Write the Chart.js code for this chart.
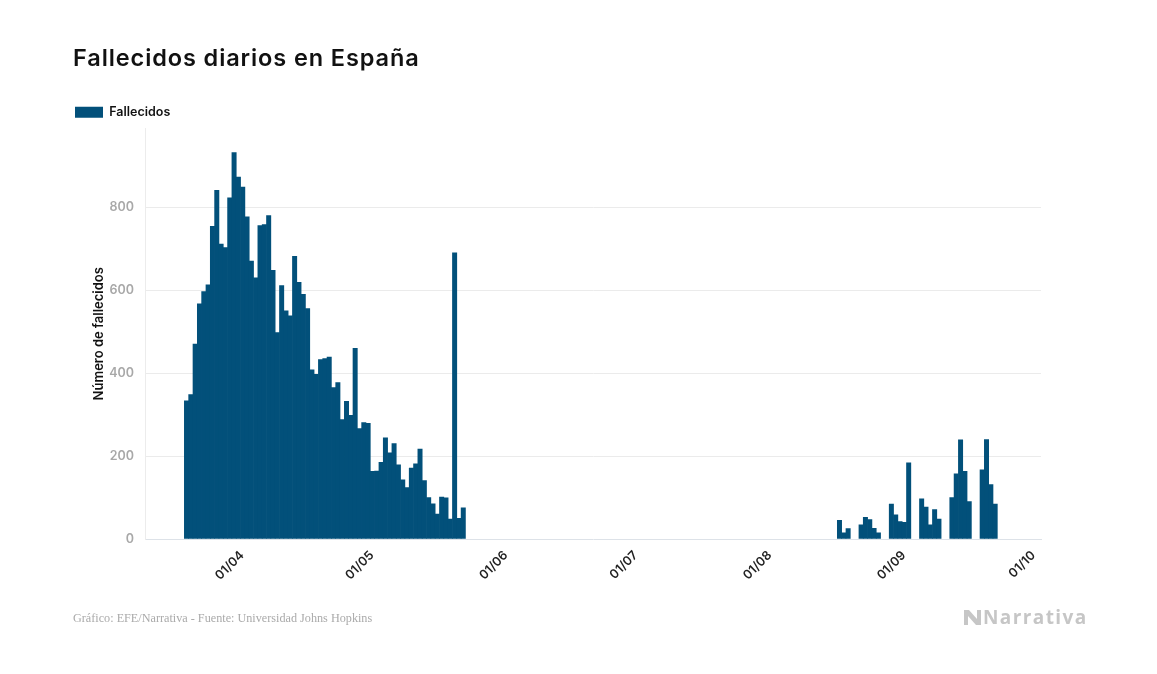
<!DOCTYPE html>
<html lang="es">
<head>
<meta charset="utf-8">
<title>Fallecidos diarios en España</title>
<script src="https://cdn.jsdelivr.net/npm/chart.js@4.4.0/dist/chart.umd.min.js"></script>
<style>
  html, body { margin: 0; padding: 0; background: #fff; }
  #lienzo { position: relative; width: 1157px; height: 674px; overflow: hidden; }
  #grafico { position: absolute; left: 0; top: 0; }
  .titulo { position: absolute; left: 73px; top: 43px; font: 600 23.5px Inter, sans-serif; letter-spacing: 0.9px; color: #111; white-space: nowrap; }
  .fuente { position: absolute; left: 73px; top: 611px; font: 12.2px "Liberation Serif", serif; color: #aaa; white-space: nowrap; }
  .marca { position: absolute; left: 964px; top: 605px; height: 24px; display: flex; align-items: center; color: #c6c6c6; font: 700 19px "Open Sans", sans-serif; letter-spacing: 1.4px; }
  .marca svg { margin-right: 1px; }
</style>
</head>
<body>
<div id="lienzo">
  <canvas id="grafico" width="1157" height="674"></canvas>
  <div class="titulo">Fallecidos diarios en España</div>
  <div class="fuente">Gráfico: EFE/Narrativa - Fuente: Universidad Johns Hopkins</div>
  <div class="marca">
    <svg width="18" height="15" viewBox="0 0 18 15"><path d="M0 0h5l8 9V0h4v15h-5L4 6v9H0z" fill="#c6c6c6"/></svg>
    <span>Narrativa</span>
  </div>
</div>
<script>
// dias con dato (dd/mm, 2020)
const fechas = [
  '21/03','22/03','23/03','24/03','25/03','26/03','27/03','28/03','29/03','30/03','31/03',
  '01/04','02/04','03/04','04/04','05/04','06/04','07/04','08/04','09/04','10/04',
  '11/04','12/04','13/04','14/04','15/04','16/04','17/04','18/04','19/04','20/04',
  '21/04','22/04','23/04','24/04','25/04','26/04','27/04','28/04','29/04','30/04',
  '01/05','02/05','03/05','04/05','05/05','06/05','07/05','08/05','09/05','10/05',
  '11/05','12/05','13/05','14/05','15/05','16/05','17/05','18/05','19/05','20/05',
  '21/05','22/05','23/05','24/05',
  '19/08','20/08','21/08','24/08','25/08','26/08','27/08','28/08','31/08',
  '01/09','02/09','03/09','04/09','07/09','08/09','09/09','10/09','11/09',
  '14/09','15/09','16/09','17/09','18/09','21/09','22/09','23/09','24/09'
];
const fallecidos = [
  333, 348, 470, 567, 597, 613, 754, 841, 711, 703, 823,
  932, 873, 849, 777, 670, 630, 756, 758, 780, 648,
  498, 611, 550, 538, 682, 619, 590, 556, 408, 397,
  433, 435, 439, 365, 377, 288, 332, 298, 460, 266,
  281, 279, 163, 164, 185, 244, 208, 230, 179, 143,
  124, 171, 181, 217, 141, 100, 85, 60, 101, 99,
  48, 690, 50, 75,
  45, 15, 25, 34, 52, 47, 26, 15, 84,
  58, 42, 40, 184, 97, 77, 34, 71, 48,
  100, 157, 239, 163, 90, 167, 240, 131, 84
];
const etiquetasMes = ['01/04', '01/05', '01/06', '01/07', '01/08', '01/09', '01/10'];
const marcasY = [0, 200, 400, 600, 800];

// dd/mm -> dia del año (1 ene = 0)
function diaDelAnio(txt) {
  const [d, m] = txt.split('/').map(Number);
  return (Date.UTC(2020, m - 1, d) - Date.UTC(2020, 0, 1)) / 864e5;
}

const puntos = fechas.map((f, i) => ({ x: diaDelAnio(f), y: fallecidos[i] }));
const posMes = etiquetasMes.map(diaDelAnio);

Chart.defaults.font.family = 'Inter, sans-serif';

const ctx = document.getElementById('grafico').getContext('2d');
const chart = new Chart(ctx, {
  type: 'bar',
  data: {
    datasets: [{
      label: 'Fallecidos',
      data: puntos,
      backgroundColor: '#02507a',
      borderWidth: 0,
      barPercentage: 1,
      categoryPercentage: 1
    }]
  },
  options: {
    responsive: false,
    animation: false,
    layout: { padding: { left: 65, right: 116, top: 96, bottom: 35 } },
    plugins: {
      legend: {
        align: 'start',
        labels: {
          boxWidth: 28,
          boxHeight: 11,
          color: '#111',
          font: { size: 12.5, weight: '600' }
        }
      },
      tooltip: { enabled: false }
    },
    scales: {
      x: {
        type: 'linear',
        offset: false,
        min: 70.4,
        max: 277.6,
        afterFit: (s) => { s.height = 100; },
        afterBuildTicks: (s) => { s.ticks = posMes.map(v => ({ value: v })); },
        grid: { display: false, drawTicks: false, offset: false },
        border: { display: true, color: '#dde2e8', dash: [3, 2] },
        ticks: {
          autoSkip: false,
          minRotation: 45,
          maxRotation: 45,
          padding: 9,
          labelOffset: 8,
          color: '#222',
          font: { size: 12.5, weight: '600' },
          callback: (v, i) => etiquetasMes[i]
        }
      },
      y: {
        min: 0,
        max: 990,
        afterFit: (s) => { s.width = 80; },
        afterBuildTicks: (s) => { s.ticks = marcasY.map(v => ({ value: v })); },
        grid: {
          color: (c) => c.tick && c.tick.value === 0 ? 'rgba(0,0,0,0)' : '#ebebeb',
          drawTicks: false
        },
        border: { display: true, color: '#ececec' },
        ticks: {
          padding: 11,
          color: '#a8a8a8',
          font: { size: 12.5, weight: '600' }
        },
        title: {
          display: true,
          text: 'Número de fallecidos',
          color: '#111',
          font: { size: 13, weight: '600' },
          padding: { top: 26, bottom: 0 }
        }
      }
    }
  }
});
</script>
</body>
</html>
